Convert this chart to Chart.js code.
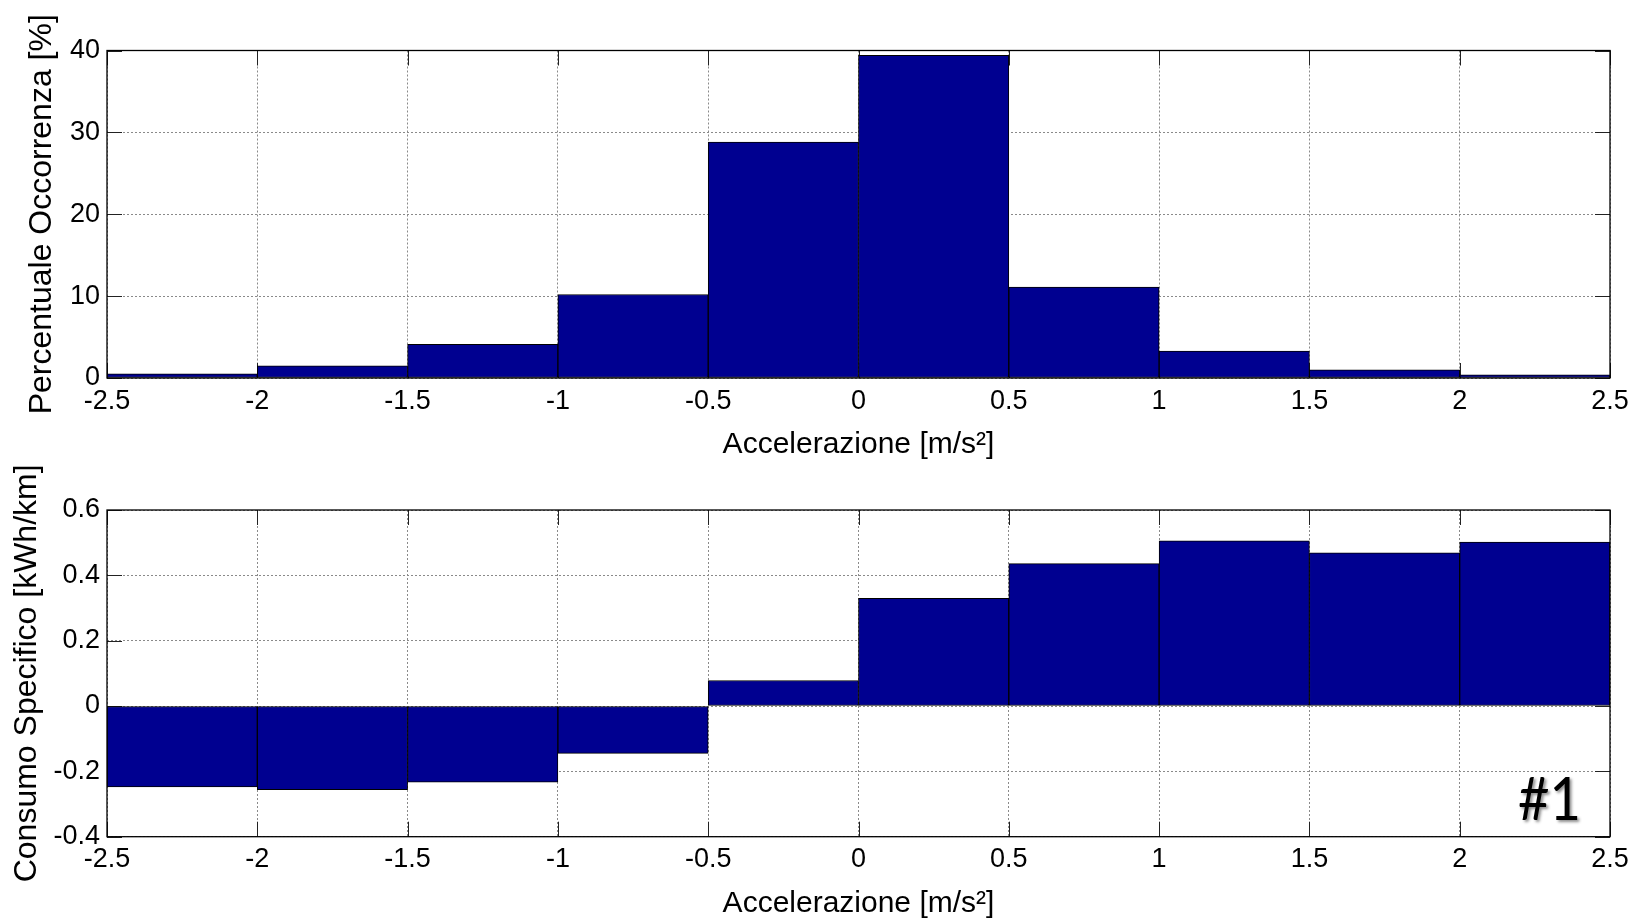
<!DOCTYPE html>
<html>
<head>
<meta charset="utf-8">
<script src="https://cdn.jsdelivr.net/npm/chart.js@4.4.1/dist/chart.umd.min.js"></script>
<style>
  html, body { margin: 0; padding: 0; background: #fff; width: 1641px; height: 920px; overflow: hidden; }
  .panel { position: absolute; left: 0; width: 1641px; height: 460px; }
  #panelTop { top: 0; }
  #panelBottom { top: 459px; }
</style>
</head>
<body>
<div class="panel" id="panelTop"><canvas id="chartOcc" width="1641" height="460"></canvas></div>
<div class="panel" id="panelBottom"><canvas id="chartCons" width="1641" height="460"></canvas></div>
<script>
// Acceleration bins [m/s^2]: edges (tick labels) and centres (bar positions)
const binEdges   = [-2.5, -2, -1.5, -1, -0.5, 0, 0.5, 1, 1.5, 2, 2.5];
const binCenters = [-2.25, -1.75, -1.25, -0.75, -0.25, 0.25, 0.75, 1.25, 1.75, 2.25];

// Share of time spent in each acceleration bin [%]
const occorrenza = [0.5, 1.5, 4.1, 10.2, 28.8, 39.4, 11.1, 3.3, 1.0, 0.4];

// Specific energy consumption per acceleration bin [kWh/km]
const consumo = [-0.248, -0.256, -0.233, -0.145, 0.078, 0.330, 0.436, 0.506, 0.469, 0.502];

// Y tick values
const occTicks  = [0, 10, 20, 30, 40];
const consTicks = [-0.4, -0.2, 0, 0.2, 0.4, 0.6];

// Axis texts
const xLabel    = 'Accelerazione [m/s²]';
const occLabel  = 'Percentuale Occorrenza [%]';
const consLabel = 'Consumo Specifico [kWh/km]';
const panelTag  = '#1';

const FONT = "'Liberation Sans', Arial, Helvetica, sans-serif";
const BAR_FILL = '#000090';

// MATLAB-like frame: inward ticks on all four sides (behind bars) and a closed box
const framePlugin = {
  id: 'frame',
  beforeDatasetsDraw(chart) {
    const { ctx, chartArea: a, scales } = chart;
    const L = 15;
    ctx.save();
    ctx.strokeStyle = '#222';
    ctx.lineWidth = 1;
    ctx.beginPath();
    scales.x.ticks.forEach(t => {
      const p = Math.round(scales.x.getPixelForValue(t.value)) + 0.5;
      ctx.moveTo(p, a.top); ctx.lineTo(p, a.top + L);
      ctx.moveTo(p, a.bottom); ctx.lineTo(p, a.bottom - L);
    });
    scales.y.ticks.forEach(t => {
      const p = Math.round(scales.y.getPixelForValue(t.value)) + 0.5;
      ctx.moveTo(a.left, p); ctx.lineTo(a.left + L, p);
      ctx.moveTo(a.right, p); ctx.lineTo(a.right - L, p);
    });
    ctx.stroke();
    ctx.restore();
  },
  afterDatasetsDraw(chart) {
    const { ctx, chartArea: a } = chart;
    ctx.save();
    ctx.strokeStyle = '#000';
    ctx.lineWidth = 1.3;
    ctx.strokeRect(a.left, a.top, a.right - a.left, a.bottom - a.top);
    ctx.restore();
  }
};

// Panel number in the lower-right corner of the consumption plot
const tagPlugin = {
  id: 'tag',
  afterDraw(chart) {
    const { ctx, chartArea: a } = chart;
    ctx.save();
    ctx.font = "60px Lato, 'Open Sans', sans-serif";
    ctx.fillStyle = '#000';
    ctx.textAlign = 'left';
    ctx.textBaseline = 'alphabetic';
    ctx.shadowColor = 'rgba(0,0,0,0.45)';
    ctx.shadowBlur = 3;
    ctx.shadowOffsetX = 2;
    ctx.shadowOffsetY = 2;
    ctx.fillText(panelTag, a.right - 92, a.bottom - 17, 63);
    ctx.restore();
  }
};

function makeChart(canvasId, values, yTicks, yLabel, yTitlePad, areaTop, xHeight, extra) {
  return new Chart(document.getElementById(canvasId), {
    type: 'bar',
    data: {
      datasets: [{
        data: binCenters.map((x, i) => ({ x, y: values[i] })),
        backgroundColor: BAR_FILL,
        borderColor: '#000',
        borderWidth: 1,
        borderSkipped: false,
        barPercentage: 1,
        categoryPercentage: 1
      }]
    },
    options: {
      responsive: false,
      animation: false,
      devicePixelRatio: 1,
      layout: { padding: { left: 0, right: 31, top: areaTop, bottom: 0 } },
      plugins: { legend: { display: false }, tooltip: { enabled: false } },
      scales: {
        x: {
          type: 'linear',
          min: binEdges[0],
          max: binEdges[binEdges.length - 1],
          offset: false,
          afterBuildTicks: s => { s.ticks = binEdges.map(v => ({ value: v })); },
          afterFit: s => { s.height = xHeight; },
          grid: { color: '#8a8a8a', lineWidth: 1, drawTicks: false, offset: false },
          border: { display: false, dash: [2, 2] },
          ticks: {
            color: '#000', padding: 7, maxRotation: 0, autoSkip: false,
            font: { family: FONT, size: 27 },
            callback: v => String(v)
          },
          title: {
            display: true, text: xLabel, color: '#000',
            font: { family: FONT, size: 30, lineHeight: 1 },
            padding: { top: 0, bottom: 0 }
          }
        },
        y: {
          min: yTicks[0],
          max: yTicks[yTicks.length - 1],
          afterBuildTicks: s => { s.ticks = yTicks.map(v => ({ value: v })); },
          afterFit: s => { s.width = 107; },
          grid: { color: '#8a8a8a', lineWidth: 1, drawTicks: false },
          border: { display: false, dash: [2, 2] },
          ticks: {
            color: '#000', padding: 7, autoSkip: false,
            font: { family: FONT, size: 27 },
            callback: v => String(v)
          },
          title: {
            display: true, text: yLabel, color: '#000',
            font: { family: FONT, size: 32, lineHeight: 1 },
            padding: { top: yTitlePad, bottom: 0 }
          }
        }
      }
    },
    plugins: [framePlugin].concat(extra || [])
  });
}

makeChart('chartOcc', occorrenza, occTicks, occLabel, 26, 50.5, 82);
makeChart('chartCons', consumo, consTicks, consLabel, 11, 51, 82.3, [tagPlugin]);
</script>
</body>
</html>
